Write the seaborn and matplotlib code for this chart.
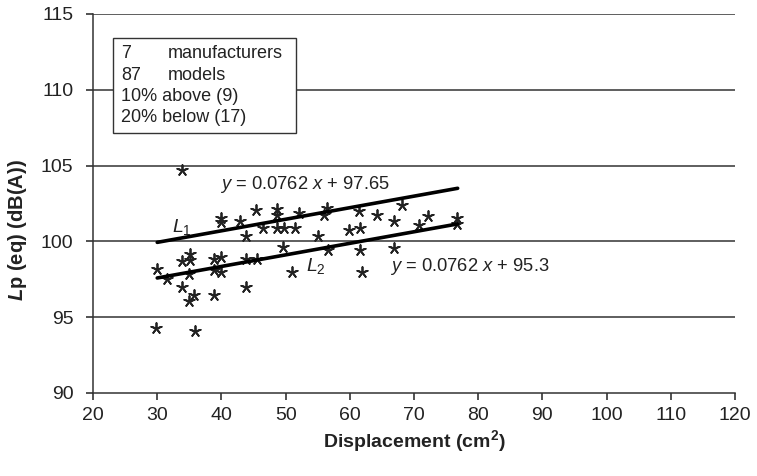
import numpy as np
import pandas as pd
import matplotlib
matplotlib.use("Agg")
import matplotlib.pyplot as plt
import seaborn as sns

# displacement (cm^2) and Lp(eq) (dB(A))
displacement = [29.9, 31.6, 33.9, 35.1, 35.1, 35.0, 38.85, 40.0, 38.85, 39.9,
                43.8, 45.5, 33.9, 35.7, 35.0, 38.85, 43.9, 50.95, 61.85, 29.8,
                35.9, 33.8, 39.9, 39.9, 42.9, 45.4, 48.6, 48.6, 52.1, 56.5,
                56.0, 61.5, 64.2, 68.1, 66.9, 72.2, 70.8, 76.7, 76.7, 43.8,
                46.4, 48.6, 49.8, 51.5, 55.05, 59.9, 61.6, 49.6, 56.6, 61.6,
                66.9]
lp_eq = [98.21, 97.5, 98.7, 99.17, 98.77, 97.85, 98.82, 98.94, 98.11, 98.0,
         98.84, 98.87, 97.01, 96.46, 96.09, 96.46, 97.01, 97.98, 97.98, 94.27,
         94.11, 104.71, 101.52, 101.3, 101.37, 102.07, 102.12, 101.74, 101.85, 102.2,
         101.71, 102.03, 101.74, 102.43, 101.33, 101.68, 101.05, 101.51, 101.15, 100.36,
         100.9, 100.88, 100.88, 100.88, 100.36, 100.78, 100.9, 99.65, 99.4, 99.4,
         99.54]

slope = 0.0762
intercept_l1 = 97.65
intercept_l2 = 95.3
line_x = [30, 76.8]

info_counts = ["7", "87"]
info_names = ["manufacturers", "models"]
info_extra = ["10% above (9)", "20% below (17)"]

df = pd.DataFrame({"displacement": displacement, "lp": lp_eq})

sns.set_style("white")
plt.rcParams["font.family"] = ["Liberation Sans", "DejaVu Sans"]
plt.rcParams["mathtext.fontset"] = "custom"
plt.rcParams["mathtext.rm"] = "Liberation Sans"
plt.rcParams["mathtext.it"] = "Liberation Sans:italic"
plt.rcParams["mathtext.bf"] = "Liberation Sans:bold"
plt.rcParams["mathtext.bfit"] = "Liberation Sans:bold:italic"

fig = plt.figure(figsize=(7.57, 4.76), dpi=100)
ax = fig.add_axes([0.1229, 0.1744, 0.848, 0.7962])

ink = "#222222"

# horizontal grid lines
for yv in [95, 100, 105, 110, 115]:
    ax.axhline(yv, color="#333333", lw=1.1, zorder=1)

sns.scatterplot(data=df, x="displacement", y="lp", marker=(5, 2, 0), s=60,
                color=ink, linewidth=1.3, ax=ax, zorder=3, legend=False)

lx = np.array(line_x)
sns.lineplot(x=lx, y=slope * lx + intercept_l1, color="black", lw=2.6, ax=ax, zorder=4)
sns.lineplot(x=lx, y=slope * lx + intercept_l2, color="black", lw=2.6, ax=ax, zorder=4)

ax.text(39.8, 103.75, r"$y$ = 0.0762 $x$ + 97.65", fontsize=13.2, va="center", color=ink)
ax.text(66.3, 98.35, r"$y$ = 0.0762 $x$ + 95.3", fontsize=13.2, va="center", color=ink)
ax.text(32.3, 100.95, r"$L_{\mathrm{1}}$", fontsize=14, va="center", color=ink)
ax.text(53.1, 98.38, r"$L_{\mathrm{2}}$", fontsize=14, va="center", color=ink)

# info box
box = plt.Rectangle((0.031, 0.686), 0.285, 0.251, transform=ax.transAxes,
                    facecolor="white", edgecolor="#333333", lw=1.0, zorder=5)
ax.add_patch(box)
row_y = [0.897, 0.839, 0.781, 0.726]
for i in range(2):
    ax.text(0.0436, row_y[i], info_counts[i], transform=ax.transAxes, fontsize=13,
            va="center", color=ink, zorder=6)
    ax.text(0.117, row_y[i], info_names[i], transform=ax.transAxes, fontsize=13,
            va="center", color=ink, zorder=6)
for i in range(2):
    ax.text(0.0436, row_y[i + 2], info_extra[i], transform=ax.transAxes, fontsize=13,
            va="center", color=ink, zorder=6)

ax.set_xlim(20, 120)
ax.set_ylim(90, 115)
ax.set_xticks(range(20, 121, 10))
ax.set_yticks(range(90, 116, 5))
ax.tick_params(axis="both", labelsize=14, colors=ink, direction="out", length=5, width=1.1)
ax.tick_params(axis="y", left=True, pad=9)
ax.tick_params(axis="x", bottom=True, pad=5)

for side in ["top", "right"]:
    ax.spines[side].set_visible(False)
for side in ["left", "bottom"]:
    ax.spines[side].set_color("#333333")
    ax.spines[side].set_linewidth(1.1)

ax.set_xlabel(r"Displacement (cm$^{\mathbf{2}}$)", fontsize=14, fontweight="bold",
              color=ink, labelpad=3)
ax.set_ylabel(r"$\mathbfit{L}$p (eq) (dB(A))", fontsize=14.5, fontweight="bold",
              color=ink)
ax.yaxis.set_label_coords(-0.1, 0.43)

fig.savefig("out.png", dpi=100)
